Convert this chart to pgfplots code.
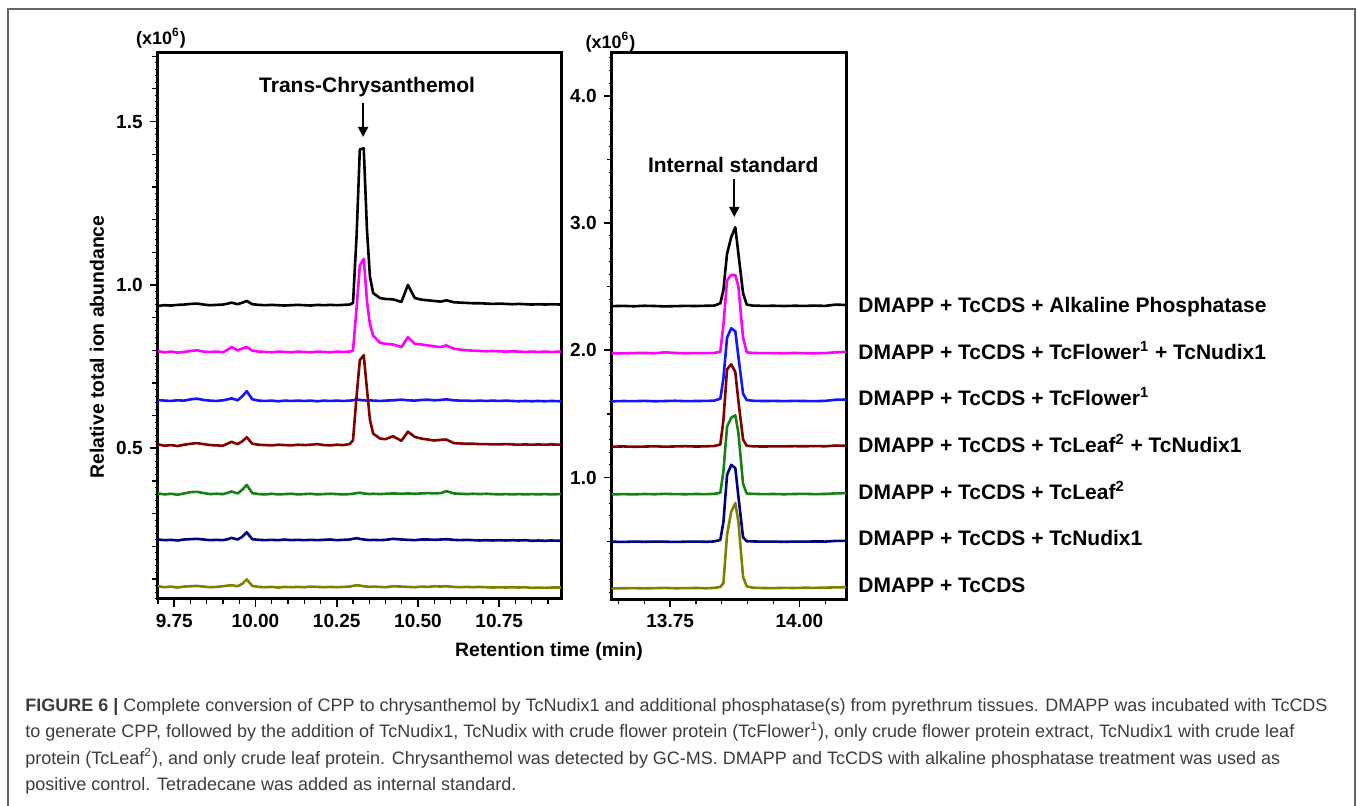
\documentclass[border=0pt]{standalone}
\usepackage{fontspec}
\setmainfont{Liberation Sans}
\usepackage{pgfplots}
\pgfplotsset{compat=1.18}
\usepackage{pgfplotstable}
\usetikzlibrary{arrows.meta}

\definecolor{cK}{RGB}{0,0,0}
\definecolor{cM}{RGB}{255,0,255}
\definecolor{cB}{RGB}{20,20,255}
\definecolor{cR}{RGB}{128,0,0}
\definecolor{cG}{RGB}{20,130,20}
\definecolor{cN}{RGB}{0,0,128}
\definecolor{cO}{RGB}{128,128,0}
\definecolor{capgray}{RGB}{60,60,60}

% columns: black, magenta, blue, brown, green, navy, olive (x10^6)
\pgfplotstableread{
t      k      m      b      r      g      n      o
9.70   0.936  0.797  0.648  0.512  0.362  0.221  0.078
9.72   0.938  0.794  0.646  0.508  0.359  0.219  0.075
9.74   0.937  0.796  0.645  0.510  0.361  0.220  0.077
9.76   0.939  0.793  0.647  0.507  0.358  0.218  0.074
9.78   0.940  0.795  0.646  0.511  0.362  0.221  0.077
9.80   0.942  0.798  0.650  0.514  0.366  0.222  0.078
9.82   0.943  0.800  0.652  0.516  0.367  0.223  0.079
9.84   0.940  0.796  0.648  0.513  0.363  0.221  0.077
9.86   0.938  0.795  0.646  0.510  0.360  0.219  0.075
9.88   0.939  0.796  0.645  0.509  0.361  0.220  0.076
9.90   0.940  0.794  0.647  0.508  0.360  0.219  0.078
9.915  0.943  0.802  0.650  0.515  0.364  0.222  0.080
9.926  0.946  0.810  0.653  0.520  0.368  0.226  0.081
9.945  0.941  0.800  0.647  0.513  0.362  0.221  0.078
9.96   0.946  0.806  0.660  0.522  0.374  0.230  0.086
9.973  0.951  0.810  0.675  0.534  0.388  0.243  0.099
9.99   0.941  0.799  0.650  0.514  0.363  0.222  0.079
10.01  0.939  0.796  0.646  0.511  0.360  0.220  0.076
10.03  0.938  0.795  0.645  0.510  0.359  0.219  0.075
10.05  0.939  0.794  0.646  0.509  0.361  0.220  0.076
10.07  0.938  0.796  0.644  0.511  0.359  0.219  0.074
10.09  0.937  0.795  0.646  0.510  0.360  0.221  0.076
10.11  0.938  0.794  0.645  0.509  0.361  0.219  0.075
10.13  0.939  0.796  0.646  0.511  0.359  0.220  0.076
10.15  0.938  0.795  0.645  0.510  0.360  0.219  0.075
10.17  0.937  0.794  0.646  0.511  0.361  0.220  0.077
10.19  0.939  0.796  0.644  0.513  0.359  0.219  0.076
10.21  0.938  0.795  0.646  0.510  0.360  0.220  0.075
10.23  0.939  0.794  0.645  0.509  0.361  0.221  0.076
10.25  0.938  0.796  0.646  0.511  0.360  0.219  0.075
10.27  0.939  0.795  0.645  0.510  0.359  0.220  0.076
10.29  0.940  0.796  0.646  0.513  0.360  0.221  0.077
10.30  0.945  0.800  0.647  0.525  0.361  0.223  0.079
10.311 1.150  0.930  0.650  0.660  0.363  0.225  0.081
10.321 1.415  1.060  0.648  0.770  0.364  0.223  0.080
10.333 1.418  1.080  0.647  0.785  0.362  0.221  0.078
10.343 1.168  0.950  0.646  0.680  0.361  0.220  0.077
10.352 1.026  0.880  0.647  0.588  0.360  0.219  0.076
10.362 0.975  0.845  0.646  0.545  0.361  0.220  0.077
10.383 0.960  0.823  0.645  0.530  0.360  0.219  0.076
10.40  0.957  0.820  0.646  0.528  0.361  0.220  0.075
10.423 0.956  0.818  0.647  0.537  0.362  0.223  0.078
10.449 0.948  0.810  0.649  0.523  0.361  0.221  0.077
10.469 1.000  0.840  0.647  0.551  0.362  0.220  0.076
10.49  0.960  0.820  0.646  0.535  0.361  0.219  0.075
10.51  0.955  0.818  0.648  0.530  0.362  0.221  0.077
10.53  0.953  0.815  0.649  0.527  0.363  0.221  0.076
10.55  0.951  0.812  0.647  0.524  0.362  0.220  0.078
10.57  0.949  0.810  0.648  0.526  0.363  0.221  0.077
10.587 0.953  0.815  0.650  0.527  0.369  0.222  0.078
10.61  0.947  0.805  0.647  0.516  0.362  0.220  0.076
10.63  0.946  0.802  0.646  0.515  0.361  0.219  0.075
10.65  0.945  0.800  0.646  0.514  0.360  0.220  0.076
10.67  0.944  0.799  0.645  0.514  0.361  0.219  0.075
10.69  0.944  0.798  0.646  0.513  0.360  0.218  0.076
10.71  0.943  0.797  0.645  0.513  0.361  0.219  0.075
10.73  0.942  0.798  0.646  0.512  0.360  0.218  0.074
10.75  0.943  0.797  0.645  0.512  0.359  0.219  0.075
10.77  0.942  0.796  0.646  0.513  0.360  0.218  0.074
10.79  0.941  0.797  0.645  0.512  0.359  0.219  0.075
10.81  0.942  0.796  0.644  0.511  0.360  0.218  0.074
10.83  0.941  0.795  0.645  0.512  0.359  0.219  0.075
10.85  0.940  0.796  0.644  0.511  0.360  0.217  0.073
10.87  0.941  0.795  0.645  0.512  0.359  0.218  0.074
10.89  0.940  0.796  0.644  0.511  0.360  0.217  0.073
10.91  0.941  0.795  0.645  0.512  0.359  0.218  0.074
10.94  0.940  0.796  0.644  0.511  0.360  0.217  0.074
}\lefttab

\pgfplotstableread{
t       k      m      b      r      g      n      o
13.637  2.348  1.978  1.600  1.243  0.868  0.496  0.128
13.66   2.350  1.976  1.602  1.245  0.870  0.494  0.130
13.68   2.347  1.979  1.601  1.242  0.868  0.497  0.131
13.70   2.351  1.980  1.603  1.244  0.871  0.495  0.129
13.72   2.349  1.977  1.600  1.246  0.869  0.497  0.131
13.74   2.346  1.985  1.602  1.243  0.872  0.496  0.133
13.76   2.348  1.980  1.604  1.245  0.870  0.494  0.130
13.78   2.350  1.977  1.601  1.247  0.869  0.496  0.131
13.80   2.349  1.979  1.602  1.244  0.871  0.497  0.132
13.82   2.351  1.978  1.603  1.246  0.870  0.495  0.130
13.835  2.352  1.980  1.605  1.248  0.872  0.498  0.133
13.847  2.370  1.990  1.620  1.260  0.880  0.510  0.140
13.853  2.475  2.200  1.780  1.450  1.050  0.650  0.170
13.860  2.760  2.550  2.100  1.850  1.400  1.020  0.550
13.868  2.890  2.593  2.174  1.891  1.470  1.100  0.730
13.876  2.968  2.593  2.150  1.830  1.490  1.075  0.800
13.882  2.760  2.500  1.950  1.600  1.350  0.850  0.650
13.891  2.450  2.100  1.660  1.300  0.950  0.530  0.220
13.898  2.360  1.985  1.610  1.250  0.875  0.500  0.145
13.91   2.352  1.980  1.604  1.246  0.872  0.498  0.134
13.93   2.350  1.978  1.602  1.244  0.870  0.496  0.132
13.95   2.351  1.979  1.603  1.246  0.871  0.497  0.131
13.97   2.349  1.977  1.601  1.245  0.869  0.495  0.133
13.99   2.351  1.980  1.603  1.247  0.871  0.497  0.132
14.01   2.350  1.978  1.602  1.246  0.872  0.496  0.134
14.03   2.352  1.977  1.601  1.248  0.870  0.498  0.133
14.05   2.350  1.979  1.603  1.246  0.871  0.497  0.135
14.07   2.360  1.985  1.612  1.252  0.876  0.502  0.137
14.09   2.357  1.988  1.614  1.250  0.878  0.503  0.138
}\righttab

\pgfplotsset{
  gcms/.style={
    scale only axis,
    axis line style={line width=1.5pt},
    tick align=outside,
    xtick pos=bottom, ytick pos=left,
    major tick style={black, line width=0.9pt},
    minor tick style={black, line width=0.5pt},
    major tick length=4pt,
    minor tick length=1.3pt,
    extra tick style={major tick length=2.6pt, major tick style={line width=0.6pt}},
    tick label style={font=\bfseries\fontsize{9.5}{11}\selectfont},
    /pgf/number format/assume math mode=true,
    every axis plot/.append style={line width=1.3pt, line join=round},
  },
}

\begin{document}
\begin{tikzpicture}
\path[use as bounding box] (0,0) rectangle (678.5pt,403pt);
\draw[line width=1pt, black!60] (4.15pt,0) -- (4.15pt,398.5pt) -- (677.5pt,398.5pt) -- (677.5pt,0);

\begin{axis}[gcms,
  at={(78.85pt,103.5pt)}, anchor=south west,
  width=201.65pt, height=273.35pt,
  xmin=9.699, xmax=10.94, ymin=0.039, ymax=1.712,
  xtick={9.75,10.00,10.25,10.50,10.75},
  extra x ticks={9.70,9.80,9.85,9.90,9.95,10.05,10.10,10.15,10.20,10.30,10.35,10.40,10.45,10.55,10.60,10.65,10.70,10.80,10.85,10.90},
  extra x tick labels={},
  ytick={0.5,1.0,1.5},
  extra y ticks={0.1,0.2,0.3,0.4,0.6,0.7,0.8,0.9,1.1,1.2,1.3,1.4,1.6,1.7},
  extra y tick labels={},
  minor ytick={0.04,0.06,...,1.71},
  xticklabel style={/pgf/number format/.cd, fixed, fixed zerofill, precision=2},
  yticklabel style={/pgf/number format/.cd, fixed, fixed zerofill, precision=1},
]
\addplot[cK] table[x=t,y=k] {\lefttab};
\addplot[cM] table[x=t,y=m] {\lefttab};
\addplot[cB] table[x=t,y=b] {\lefttab};
\addplot[cR] table[x=t,y=r] {\lefttab};
\addplot[cG] table[x=t,y=g] {\lefttab};
\addplot[cN] table[x=t,y=n] {\lefttab};
\addplot[cO] table[x=t,y=o] {\lefttab};
\draw[line width=0.9pt, -{Triangle[length=5pt,width=5pt]}] (axis cs:10.331,1.557) -- (axis cs:10.331,1.453);
\node[font=\bfseries\fontsize{10.5}{12}\selectfont] at (axis cs:10.3435,1.607) {Trans-Chrysanthemol};
\end{axis}

\begin{axis}[gcms,
  at={(305.85pt,103.4pt)}, anchor=south west,
  width=117.15pt, height=273.4pt,
  xmin=13.637, xmax=14.09, ymin=0.044, ymax=4.343,
  xtick={13.75,14.00},
  extra x ticks={13.65,13.70,13.80,13.85,13.90,13.95,14.05},
  extra x tick labels={},
  ytick={1.0,2.0,3.0,4.0},
  extra y ticks={0.5,1.5,2.5,3.5},
  extra y tick labels={},
  minor ytick={0.1,0.2,...,4.3},
  xticklabel style={/pgf/number format/.cd, fixed, fixed zerofill, precision=2},
  yticklabel style={/pgf/number format/.cd, fixed, fixed zerofill, precision=1},
]
\addplot[cK] table[x=t,y=k] {\righttab};
\addplot[cM] table[x=t,y=m] {\righttab};
\addplot[cB] table[x=t,y=b] {\righttab};
\addplot[cR] table[x=t,y=r] {\righttab};
\addplot[cG] table[x=t,y=g] {\righttab};
\addplot[cN] table[x=t,y=n] {\righttab};
\addplot[cO] table[x=t,y=o] {\righttab};
\draw[line width=0.9pt, -{Triangle[length=5pt,width=5pt]}] (axis cs:13.874,3.347) -- (axis cs:13.874,3.049);
\node[font=\bfseries\fontsize{10.5}{12}\selectfont] at (axis cs:13.872,3.458) {Internal standard};
\end{axis}

% scale notes and axis titles
\node[font=\bfseries\fontsize{9}{10}\selectfont] at (80.5pt,383.75pt) {(x10\textsuperscript{6})};
\node[font=\bfseries\fontsize{9}{10}\selectfont] at (305.25pt,382pt) {(x10\textsuperscript{6})};
\node[font=\bfseries\fontsize{9.7}{11}\selectfont, rotate=90] at (48.5pt,229.5pt) {Relative total ion abundance};
\node[font=\bfseries\fontsize{9.7}{11}\selectfont] at (274.5pt,77pt) {Retention time (min)};

% sample labels
\begin{scope}[every node/.style={anchor=base west, inner sep=0pt, font=\bfseries\fontsize{10.5}{12}\selectfont}]
\node at (429pt,246.65pt) {DMAPP + TcCDS + Alkaline Phosphatase};
\node at (429pt,223.35pt) {DMAPP + TcCDS + TcFlower\textsuperscript{1} + TcNudix1};
\node at (429pt,200.05pt) {DMAPP + TcCDS + TcFlower\textsuperscript{1}};
\node at (429pt,176.75pt) {DMAPP + TcCDS + TcLeaf\textsuperscript{2} + TcNudix1};
\node at (429pt,153.45pt) {DMAPP + TcCDS + TcLeaf\textsuperscript{2}};
\node at (429pt,130.15pt) {DMAPP + TcCDS + TcNudix1};
\node at (429pt,106.85pt) {DMAPP + TcCDS};
\end{scope}

% caption
\begin{scope}[every node/.style={anchor=base west, inner sep=0pt, text=capgray, font=\fontsize{9}{11}\selectfont}]
\node at (12.5pt,47pt) {\textbf{FIGURE 6 |} Complete conversion of CPP to chrysanthemol by TcNudix1 and additional phosphatase(s) from pyrethrum tissues. DMAPP was incubated with TcCDS};
\node at (12.5pt,34pt) {to generate CPP, followed by the addition of TcNudix1, TcNudix with crude flower protein (TcFlower\textsuperscript{1}), only crude flower protein extract, TcNudix1 with crude leaf};
\node at (12.5pt,20.75pt) {protein (TcLeaf\textsuperscript{2}), and only crude leaf protein. Chrysanthemol was detected by GC-MS. DMAPP and TcCDS with alkaline phosphatase treatment was used as};
\node at (12.5pt,7.5pt) {positive control. Tetradecane was added as internal standard.};
\end{scope}
\end{tikzpicture}
\end{document}
